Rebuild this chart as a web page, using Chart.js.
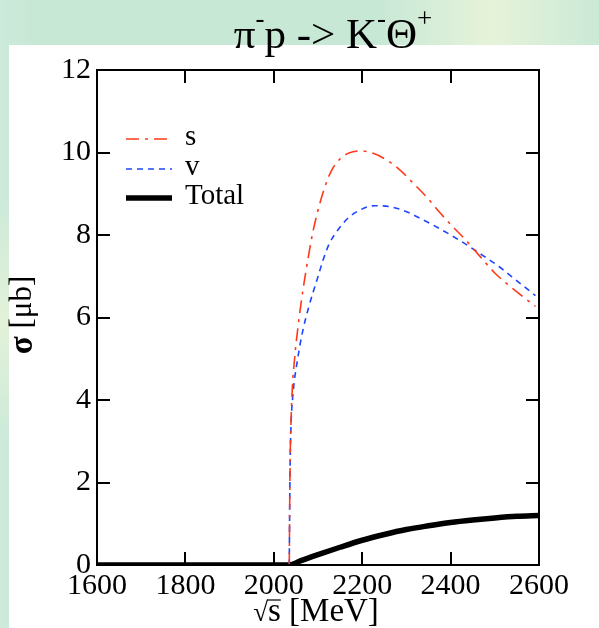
<!DOCTYPE html>
<html>
<head>
<meta charset="utf-8">
<script src="https://cdn.jsdelivr.net/npm/chart.js@4.4.1/dist/chart.umd.min.js"></script>
<style>
  html, body { margin: 0; padding: 0; }
  body {
    width: 599px; height: 628px; position: relative; overflow: hidden;
    background:
      linear-gradient(180deg, rgba(232,244,216,0) 200px, rgba(232,244,216,0.8) 320px, rgba(232,244,216,0) 440px),
      linear-gradient(90deg, #cdeada 0px, #c8e8d6 30px, #c8e8d6 380px, #e6f3d9 490px, #cbe9d7 599px);
  }
  #panel { position: absolute; left: 9px; top: 45px; right: 0; bottom: 0; background: #fff; }
  #wrap { position: absolute; left: 0; top: 0; width: 599px; height: 628px; }
</style>
</head>
<body>
<div id="panel"></div>
<div id="wrap"><canvas id="chart" width="599" height="628"></canvas></div>
<script>
// sqrt(s) in MeV, sigma in micro-barn
const energyS = [2035, 2036, 2037, 2039, 2042, 2047, 2055, 2066, 2077, 2088, 2100, 2115, 2130, 2150, 2170, 2197,
  2225, 2255, 2285, 2315, 2345, 2375, 2405, 2435, 2465, 2500, 2550, 2592];
const sigmaS = [0, 1.5, 2.6, 3.5, 4.3, 5.0, 5.8, 6.67, 7.4, 8.05, 8.6, 9.15, 9.55, 9.85, 9.99, 10.04,
  9.98, 9.82, 9.58, 9.26, 8.93, 8.55, 8.2, 7.87, 7.5, 7.08, 6.62, 6.27];

const energyV = [2035, 2036, 2037, 2039, 2043, 2054, 2066, 2079, 2090, 2100, 2111, 2126, 2145, 2167, 2194,
  2228, 2261, 2299, 2337, 2374, 2419, 2465, 2510, 2551, 2592];
const sigmaV = [0, 1.5, 2.5, 3.4, 4.1, 5.0, 5.7, 6.25, 6.65, 6.99, 7.38, 7.8, 8.12, 8.4, 8.6,
  8.71, 8.69, 8.57, 8.37, 8.16, 7.88, 7.56, 7.23, 6.88, 6.53];

const energyTotal = [1600, 2035, 2060, 2100, 2150, 2200, 2250, 2300, 2350, 2400, 2450, 2500, 2550, 2600];
const sigmaTotal = [0, 0, 0.1, 0.25, 0.43, 0.6, 0.74, 0.86, 0.95, 1.03, 1.09, 1.14, 1.18, 1.2];

const xTicks = [1600, 1800, 2000, 2200, 2400, 2600];
const yTicks = [0, 2, 4, 6, 8, 10, 12];
const seriesLabels = ["s", "v", "Total"];

const SERIF = "'Liberation Serif', 'DejaVu Serif', serif";

function toPoints(xs, ys) {
  return xs.map((x, i) => ({ x: x, y: ys[i] }));
}

// cadre avec graduations vers l'intérieur sur les 4 côtés
const framePlugin = {
  id: "frame",
  afterDatasetsDraw(chart) {
    const { ctx, chartArea: a, scales } = chart;
    const len = 13;
    ctx.save();
    ctx.strokeStyle = "#000";
    ctx.lineWidth = 2;
    ctx.strokeRect(a.left, a.top, a.right - a.left, a.bottom - a.top);
    ctx.beginPath();
    xTicks.forEach((v) => {
      const px = Math.round(scales.x.getPixelForValue(v));
      ctx.moveTo(px, a.bottom); ctx.lineTo(px, a.bottom - len);
      ctx.moveTo(px, a.top); ctx.lineTo(px, a.top + len);
    });
    yTicks.forEach((v) => {
      const py = Math.round(scales.y.getPixelForValue(v));
      ctx.moveTo(a.left, py); ctx.lineTo(a.left + len, py);
      ctx.moveTo(a.right, py); ctx.lineTo(a.right - len, py);
    });
    ctx.stroke();
    ctx.restore();
  },
};

// légende dans la zone du graphique
const legendPlugin = {
  id: "innerLegend",
  afterDatasetsDraw(chart) {
    const { ctx } = chart;
    const x0 = 126, x1 = 172, tx = 185;
    const rows = [139, 169, 198];
    ctx.save();
    chart.data.datasets.forEach((ds, i) => {
      const y = rows[i];
      ctx.beginPath();
      ctx.strokeStyle = ds.borderColor;
      ctx.lineWidth = ds.borderWidth;
      ctx.setLineDash(ds.borderDash || []);
      ctx.moveTo(x0, y); ctx.lineTo(x1, y);
      ctx.stroke();
      ctx.setLineDash([]);
      ctx.fillStyle = "#000";
      ctx.font = "29px " + SERIF;
      ctx.textBaseline = "middle";
      ctx.textAlign = "left";
      ctx.fillText(ds.label, tx, y - 2);
    });
    ctx.restore();
  },
};

// titres avec exposants
const titlesPlugin = {
  id: "titles",
  afterDraw(chart) {
    const { ctx } = chart;
    ctx.save();
    ctx.fillStyle = "#000";
    ctx.textBaseline = "alphabetic";

    // titre principal
    const parts = [["π", 0], ["-", 1], ["p -> K", 0], ["-", 1], ["Θ", 0], ["+", 1]];
    const big = "43px " + SERIF, small = "27px " + SERIF;
    let w = 0;
    parts.forEach(([t, sup]) => { ctx.font = sup ? small : big; w += ctx.measureText(t).width; });
    let x = 333 - w / 2;
    const base = 48;
    parts.forEach(([t, sup]) => {
      ctx.font = sup ? small : big;
      ctx.fillText(t, x, sup ? base - 21 : base);
      x += ctx.measureText(t).width;
    });

    // titre de l'axe x : √s [MeV]
    ctx.font = "33px " + SERIF;
    const rad = "√", s = "s", rest = " [MeV]";
    const ws = ctx.measureText(s).width, wt = ctx.measureText(rest).width;
    ctx.font = "27px " + SERIF;
    const wr = ctx.measureText(rad).width;
    let xx = 316 - (wr + ws + wt) / 2;
    const yb = 621;
    ctx.fillText(rad, xx, yb);
    ctx.font = "33px " + SERIF;
    ctx.fillText(s, xx + wr, yb);
    ctx.beginPath();
    ctx.lineWidth = 1.2;
    ctx.strokeStyle = "#000";
    ctx.moveTo(xx + wr - 1, yb - 21); ctx.lineTo(xx + wr + ws, yb - 21);
    ctx.stroke();
    ctx.fillText(rest, xx + wr + ws, yb);

    // titre de l'axe y : σ [μb]
    ctx.translate(23, 315);
    ctx.rotate(-Math.PI / 2);
    ctx.font = "bold 33px " + SERIF;
    const sig = "σ", unit = " [μb]";
    const wsig = ctx.measureText(sig).width;
    ctx.font = "31px " + SERIF;
    const wu = ctx.measureText(unit).width;
    ctx.textBaseline = "middle";
    ctx.font = "bold 33px " + SERIF;
    ctx.fillText(sig, -(wsig + wu) / 2, 0);
    ctx.font = "31px " + SERIF;
    ctx.fillText(unit, -(wsig + wu) / 2 + wsig, 0);
    ctx.restore();
  },
};

const datasets = [
  {
    label: seriesLabels[0],
    data: toPoints(energyS, sigmaS),
    borderColor: "#ff3a1a",
    borderWidth: 1.6,
    borderDash: [13, 6, 3, 6],
  },
  {
    label: seriesLabels[1],
    data: toPoints(energyV, sigmaV),
    borderColor: "#1e46ff",
    borderWidth: 1.6,
    borderDash: [6, 5],
  },
  {
    label: seriesLabels[2],
    data: toPoints(energyTotal, sigmaTotal),
    borderColor: "#000",
    borderWidth: 5.5,
  },
].map((d) => ({ ...d, pointRadius: 0, fill: false, cubicInterpolationMode: "monotone" }));

new Chart(document.getElementById("chart"), {
  type: "line",
  data: { datasets },
  options: {
    responsive: false,
    animation: false,
    layout: { padding: { top: 70, right: 60, left: 0, bottom: 0 } },
    plugins: { legend: { display: false }, tooltip: { enabled: false }, title: { display: false } },
    scales: {
      x: {
        type: "linear",
        min: 1600,
        max: 2600,
        afterFit: (s) => { s.height = 63; },
        afterBuildTicks: (s) => { s.ticks = xTicks.map((v) => ({ value: v })); },
        grid: { display: false, drawTicks: false },
        border: { display: false },
        ticks: {
          color: "#000", font: { family: SERIF, size: 30 }, padding: 3, maxRotation: 0,
          callback: (v) => String(v),
        },
      },
      y: {
        type: "linear",
        min: 0,
        max: 12,
        afterFit: (s) => { s.width = 97; },
        afterBuildTicks: (s) => { s.ticks = yTicks.map((v) => ({ value: v })); },
        grid: { display: false, drawTicks: false },
        border: { display: false },
        ticks: { color: "#000", font: { family: SERIF, size: 30 }, padding: 6, callback: (v) => String(v) },
      },
    },
  },
  plugins: [framePlugin, legendPlugin, titlesPlugin],
});
</script>
</body>
</html>
